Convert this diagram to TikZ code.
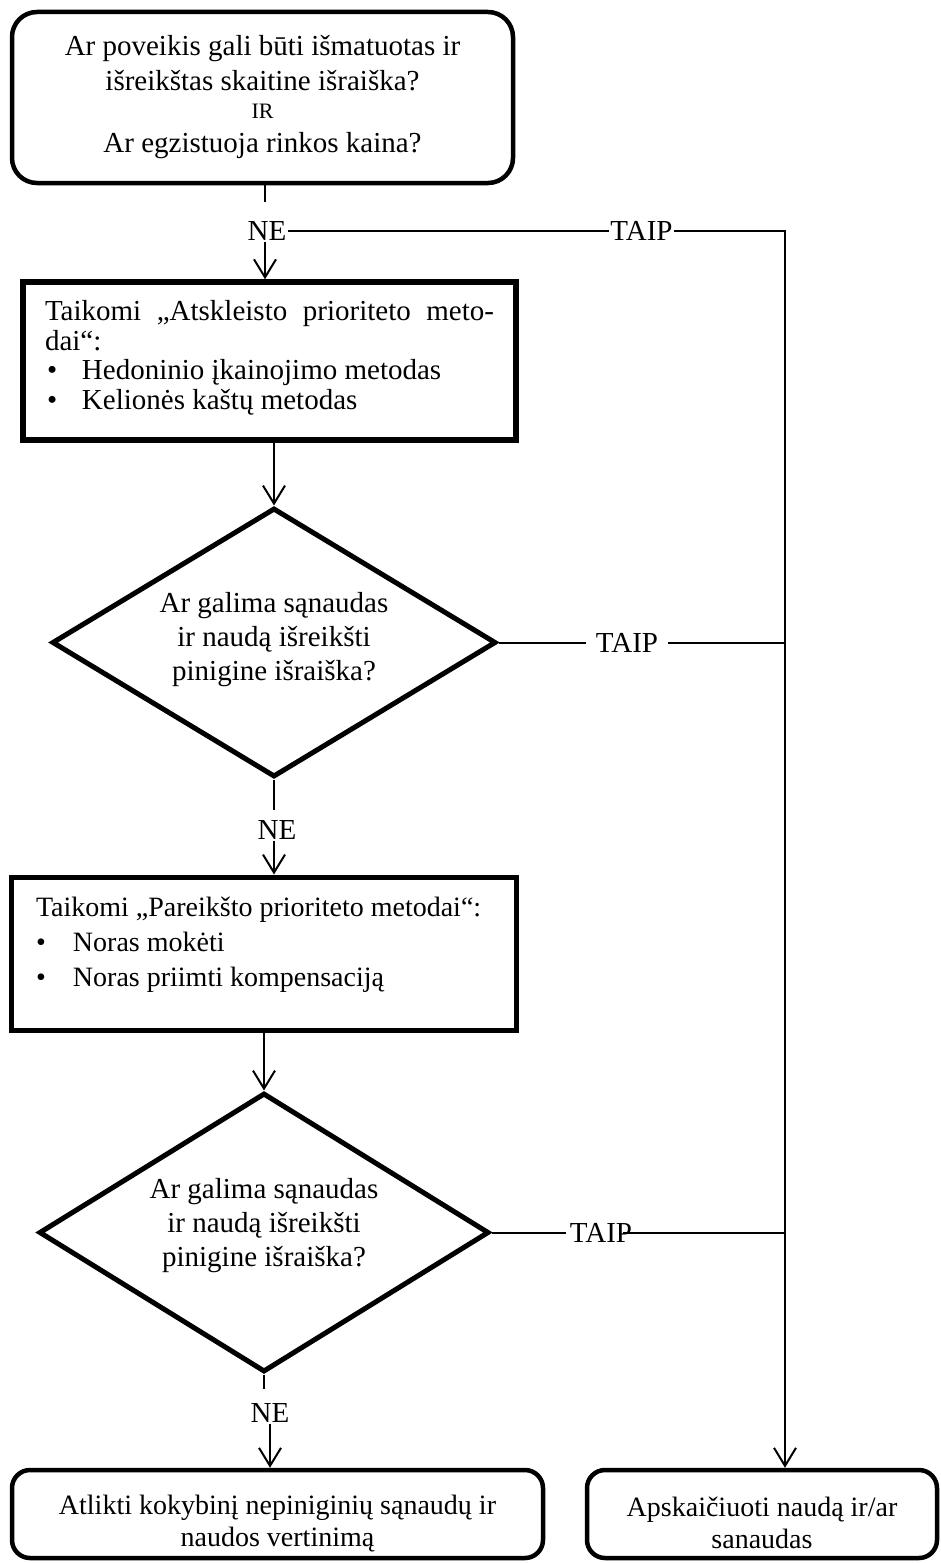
\documentclass[tikz,border=0pt]{standalone}
\usepackage{fontspec}
\setmainfont{Liberation Serif}
\usetikzlibrary{shapes.geometric,arrows.meta}
\begin{document}
\begin{tikzpicture}[x=1pt,y=-1pt,
  startbox/.style={draw, line width=4.5pt, rounded corners=25pt, align=center,
    inner sep=0pt, font=\fontsize{29}{35}\selectfont},
  endbox/.style={draw, line width=4.5pt, rounded corners=18pt, align=center,
    inner sep=0pt, font=\fontsize{28}{32}\selectfont},
  procbox/.style={draw, line width=5.5pt, align=flush left, inner ysep=0pt},
  decision/.style={draw, diamond, line width=5pt, inner sep=0pt, align=center,
    font=\fontsize{29}{34}\selectfont},
  lbl/.style={inner sep=1pt, font=\fontsize{29}{34}\selectfont},
  conn/.style={line width=2pt},
  arr/.style={conn, -{Straight Barb[length=18pt,width=22pt]}},
]
\useasboundingbox (0,0) rectangle (941,1563);

% helper coordinates: the right-hand rail and the ends of the short stubs
\coordinate (rail) at (785,232);
\coordinate (s1) at (265,202);
\coordinate (s2) at (0,810);
\coordinate (s3) at (0,1389);

% ---- boxes and decisions ----
\node[startbox, minimum width=501pt, minimum height=171pt] (top) at (262.5,97.5)
  {Ar poveikis gali būti išmatuotas ir\\
   išreikštas skaitine išraiška?\\[-7pt]
   {\fontsize{22}{26}\selectfont IR}\\[-1pt]
   Ar egzistuoja rinkos kaina?};

\node[procbox, minimum width=493pt, minimum height=158pt, text width=449pt,
      inner xsep=22pt, font=\fontsize{29}{29.5}\selectfont] (box2) at (269.5,361)
  {\makebox[449pt][s]{Taikomi „Atskleisto prioriteto meto-}\\
   dai“:\\
   \makebox[37pt][l]{\hspace{2pt}\textbullet}Hedoninio įkainojimo metodas\\
   \makebox[37pt][l]{\hspace{2pt}\textbullet}Kelionės kaštų metodas\\[-17pt]\mbox{}};

\node[decision, minimum width=444pt, minimum height=269pt, aspect=1.65] (d1) at (274,642.5)
  {Ar galima sąnaudas\\ ir naudą išreikšti\\ pinigine išraiška?\\[-22pt]\mbox{}};

\node[procbox, line width=5pt, minimum width=505pt, minimum height=153pt, text width=455pt,
      inner xsep=25pt, font=\fontsize{28}{35}\selectfont] (box3) at (263.5,953.5)
  {Taikomi „Pareikšto prioriteto metodai“:\\
   \makebox[37pt][l]{\textbullet}Noras mokėti\\
   \makebox[37pt][l]{\textbullet}Noras priimti kompensaciją\\[-12pt]\mbox{}};

\node[decision, minimum width=450pt, minimum height=279pt, aspect=1.61] (d2) at (264,1232.5)
  {Ar galima sąnaudas\\ ir naudą išreikšti\\ pinigine išraiška?\\[-14pt]\mbox{}};

\node[endbox, minimum width=531pt, minimum height=88pt] (box4) at (277.5,1514)
  {\mbox{}\\[6pt]Atlikti kokybinį nepiniginių sąnaudų ir\\ naudos vertinimą};

\node[endbox, minimum width=350pt, minimum height=88pt] (box5) at (762,1514)
  {\mbox{}\\[6pt]Apskaičiuoti naudą ir/ar\\ sanaudas};

% ---- branch labels ----
\node[lbl] (ne1) at (267,231) {NE};
\node[lbl] (taip1) at (641.5,231) {TAIP};
\node[lbl, inner xsep=10pt] (taip2) at (627,642.5) {TAIP};
\node[lbl] (ne2) at (277,830) {NE};
\node[lbl, inner sep=0pt] (taip3) at (601,1232.5) {TAIP};
\node[lbl] (ne3) at (270,1413) {NE};

% ---- connectors ----
\draw[conn] (top.south -| s1) -- (s1);
\draw[conn] (ne1.east) -- (taip1.west);
\draw[arr] (taip1.east) -| (box5.north -| rail);
\draw[arr] (ne1.south -| s1) -- (box2.north -| s1);

\draw[arr] (box2.south -| d1.north) -- (d1.north);
\draw[conn] (d1.east) -- (taip2.west);
\draw[conn] (taip2.east) -- (taip2.east -| rail);
\draw[conn] (d1.south) -- (d1.south |- s2);
\draw[arr] (ne2.south -| d1.south) -- (box3.north -| d1.south);

\draw[arr] (box3.south -| d2.north) -- (d2.north);
\draw[conn] (d2.east) -- ([xshift=-4pt]taip3.west);
\draw[conn] ([xshift=-9pt]taip3.east) -- (taip3.east -| rail);
\draw[conn] (d2.south) -- (d2.south |- s3);
\draw[arr] (ne3.south) -- (ne3.south |- box4.north);
\end{tikzpicture}
\end{document}
